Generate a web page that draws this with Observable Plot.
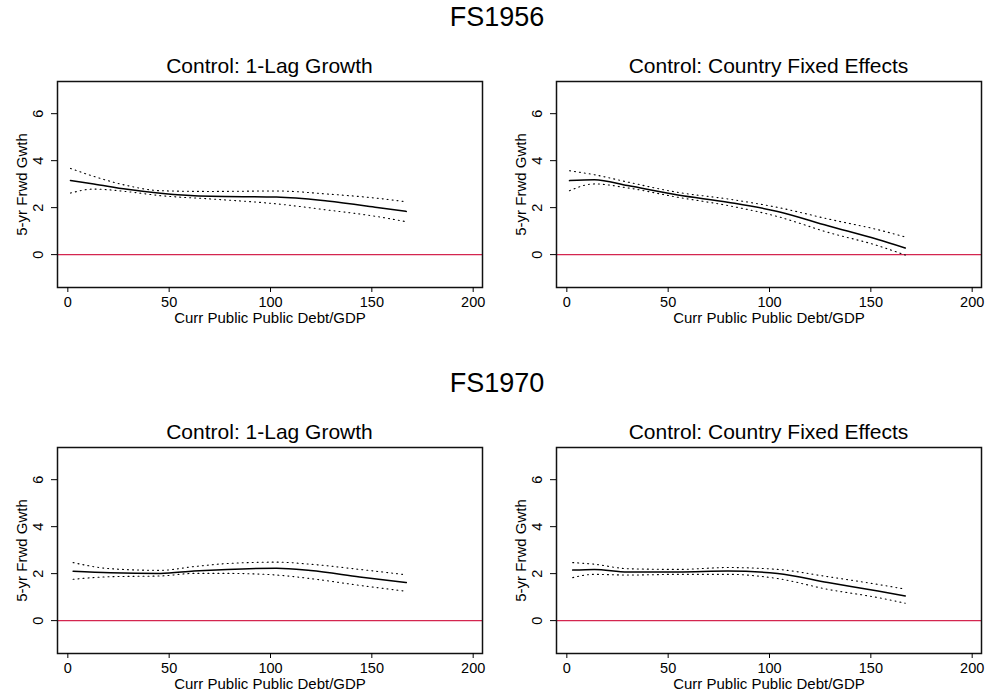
<!DOCTYPE html>
<html>
<head>
<meta charset="utf-8">
<script src="https://cdn.jsdelivr.net/npm/d3@7"></script>
<script src="https://cdn.jsdelivr.net/npm/@observablehq/plot@0.6"></script>
<style>
  html, body { margin: 0; padding: 0; background: #fff; }
  #root { position: relative; width: 985px; height: 696px; overflow: hidden; font-family: "Liberation Sans", Arial, Helvetica, sans-serif; color: #000; }
  .hdr { position: absolute; font-size: 27px; line-height: 27px; white-space: nowrap; transform: translateX(-50%); }
  .ttl { position: absolute; font-size: 21px; line-height: 21px; white-space: nowrap; transform: translateX(-50%); }
  .pan { position: absolute; }
</style>
</head>
<body>
<div id="root"></div>
<script>
// ---- data ----
const sectionTitles = ["FS1956", "FS1970"];
const panelTitles = ["Control: 1-Lag Growth", "Control: Country Fixed Effects"];
const xLabel = "Curr Public Public Debt/GDP";
const yLabel = "5-yr Frwd Gwth";
const xTicks = [0, 50, 100, 150, 200];
const yTicks = [0, 2, 4, 6];

// FS1956, Control: 1-Lag Growth
const p1x     = [1.3, 12.8, 29.3, 45.7, 70.4, 103, 128, 152.6, 167];
const p1fit   = [3.16, 3.01, 2.78, 2.61, 2.48, 2.45, 2.28, 2.01, 1.84];
const p1upper = [3.67, 3.33, 2.94, 2.72, 2.69, 2.71, 2.58, 2.40, 2.25];
const p1lower = [2.62, 2.79, 2.68, 2.51, 2.37, 2.16, 1.90, 1.62, 1.40];

// FS1956, Control: Country Fixed Effects
const p2x     = [1.3, 13.6, 30, 54.8, 79.4, 104, 128.8, 153.5, 167];
const p2fit   = [3.15, 3.19, 2.94, 2.54, 2.23, 1.84, 1.23, 0.64, 0.28];
const p2upper = [3.57, 3.40, 3.09, 2.65, 2.37, 2.01, 1.52, 1.06, 0.75];
const p2lower = [2.72, 3.01, 2.84, 2.44, 2.09, 1.62, 0.95, 0.38, -0.02];

// FS1970, Control: 1-Lag Growth
const p3x     = [2.6, 21, 45.7, 62.2, 78.6, 103, 119.7, 144, 167];
const p3fit   = [2.10, 2.04, 2.01, 2.11, 2.18, 2.23, 2.13, 1.86, 1.62];
const p3upper = [2.47, 2.21, 2.14, 2.30, 2.43, 2.49, 2.40, 2.18, 1.95];
const p3lower = [1.76, 1.87, 1.90, 2.01, 2.01, 1.94, 1.79, 1.50, 1.25];

// FS1970, Control: Country Fixed Effects
const p4x     = [2.9, 13.6, 30, 54.8, 79.4, 104, 128.8, 153.5, 167];
const p4fit   = [2.15, 2.18, 2.07, 2.07, 2.11, 2.01, 1.62, 1.26, 1.05];
const p4upper = [2.47, 2.40, 2.21, 2.18, 2.26, 2.18, 1.87, 1.54, 1.34];
const p4lower = [1.83, 1.97, 1.94, 1.97, 1.97, 1.79, 1.33, 0.98, 0.74];

// ---- layout ----
const root = document.getElementById("root");
const FONT = "'Liberation Sans', Arial, Helvetica, sans-serif";
const ML = 57, MT = 6, MB = 42, MR = 5, FW = 425, FH = 206;

function addDiv(cls, text, left, top) {
  const d = document.createElement("div");
  d.className = cls; d.textContent = text;
  d.style.left = left + "px"; d.style.top = top + "px";
  root.appendChild(d);
}

function series(xs, ys) { return xs.map((x, i) => ({x, y: ys[i]})); }

function panel(xs, fit, upper, lower, frameLeft, frameTop, title) {
  const chart = Plot.plot({
    width: ML + FW + MR,
    height: MT + FH + MB,
    marginLeft: ML, marginRight: MR, marginTop: MT, marginBottom: MB,
    style: {fontFamily: FONT, fontSize: "15px", background: "white", color: "black", overflow: "visible"},
    x: {domain: [-5.1, 204.6], label: null},
    y: {domain: [-1.4, 7.37], label: null},
    marks: [
      Plot.ruleY([0], {stroke: "#d4254f", strokeWidth: 1.4}),
      Plot.line(series(xs, upper), {x: "x", y: "y", stroke: "black", strokeWidth: 1.1, strokeDasharray: "1,4", curve: "monotone-x"}),
      Plot.line(series(xs, lower), {x: "x", y: "y", stroke: "black", strokeWidth: 1.1, strokeDasharray: "1,4", curve: "monotone-x"}),
      Plot.line(series(xs, fit), {x: "x", y: "y", stroke: "black", strokeWidth: 1.5, curve: "monotone-x"}),
      Plot.frame({stroke: "#111", strokeWidth: 1.5}),
      Plot.axisX({ticks: xTicks, tickSize: 5, tickPadding: 4, fontSize: 14.5, label: null, tickFormat: d => String(d)}),
      Plot.axisY({ticks: yTicks, tickSize: 6, label: null, tickFormat: () => ""}),
      Plot.text(yTicks, {y: d => d, text: d => String(d), frameAnchor: "left", dx: -19, rotate: -90, textAnchor: "middle", lineAnchor: "middle", fontSize: 14.5}),
      Plot.text([yLabel], {frameAnchor: "left", dx: -35, rotate: -90, textAnchor: "middle", lineAnchor: "middle", fontSize: 15}),
      Plot.text([xLabel], {frameAnchor: "bottom", dy: 31, textAnchor: "middle", lineAnchor: "middle", fontSize: 15})
    ]
  });
  chart.classList.add("pan");
  chart.style.left = (frameLeft - ML) + "px";
  chart.style.top = (frameTop - MT) + "px";
  root.appendChild(chart);
  addDiv("ttl", title, frameLeft + FW / 2, frameTop - 8.5 - 17.8);
}

addDiv("hdr", sectionTitles[0], 497, 4);
addDiv("hdr", sectionTitles[1], 497, 370);

panel(p1x, p1fit, p1upper, p1lower, 57, 81, panelTitles[0]);
panel(p2x, p2fit, p2upper, p2lower, 556, 81, panelTitles[1]);
panel(p3x, p3fit, p3upper, p3lower, 57, 447, panelTitles[0]);
panel(p4x, p4fit, p4upper, p4lower, 556, 447, panelTitles[1]);
</script>
</body>
</html>
